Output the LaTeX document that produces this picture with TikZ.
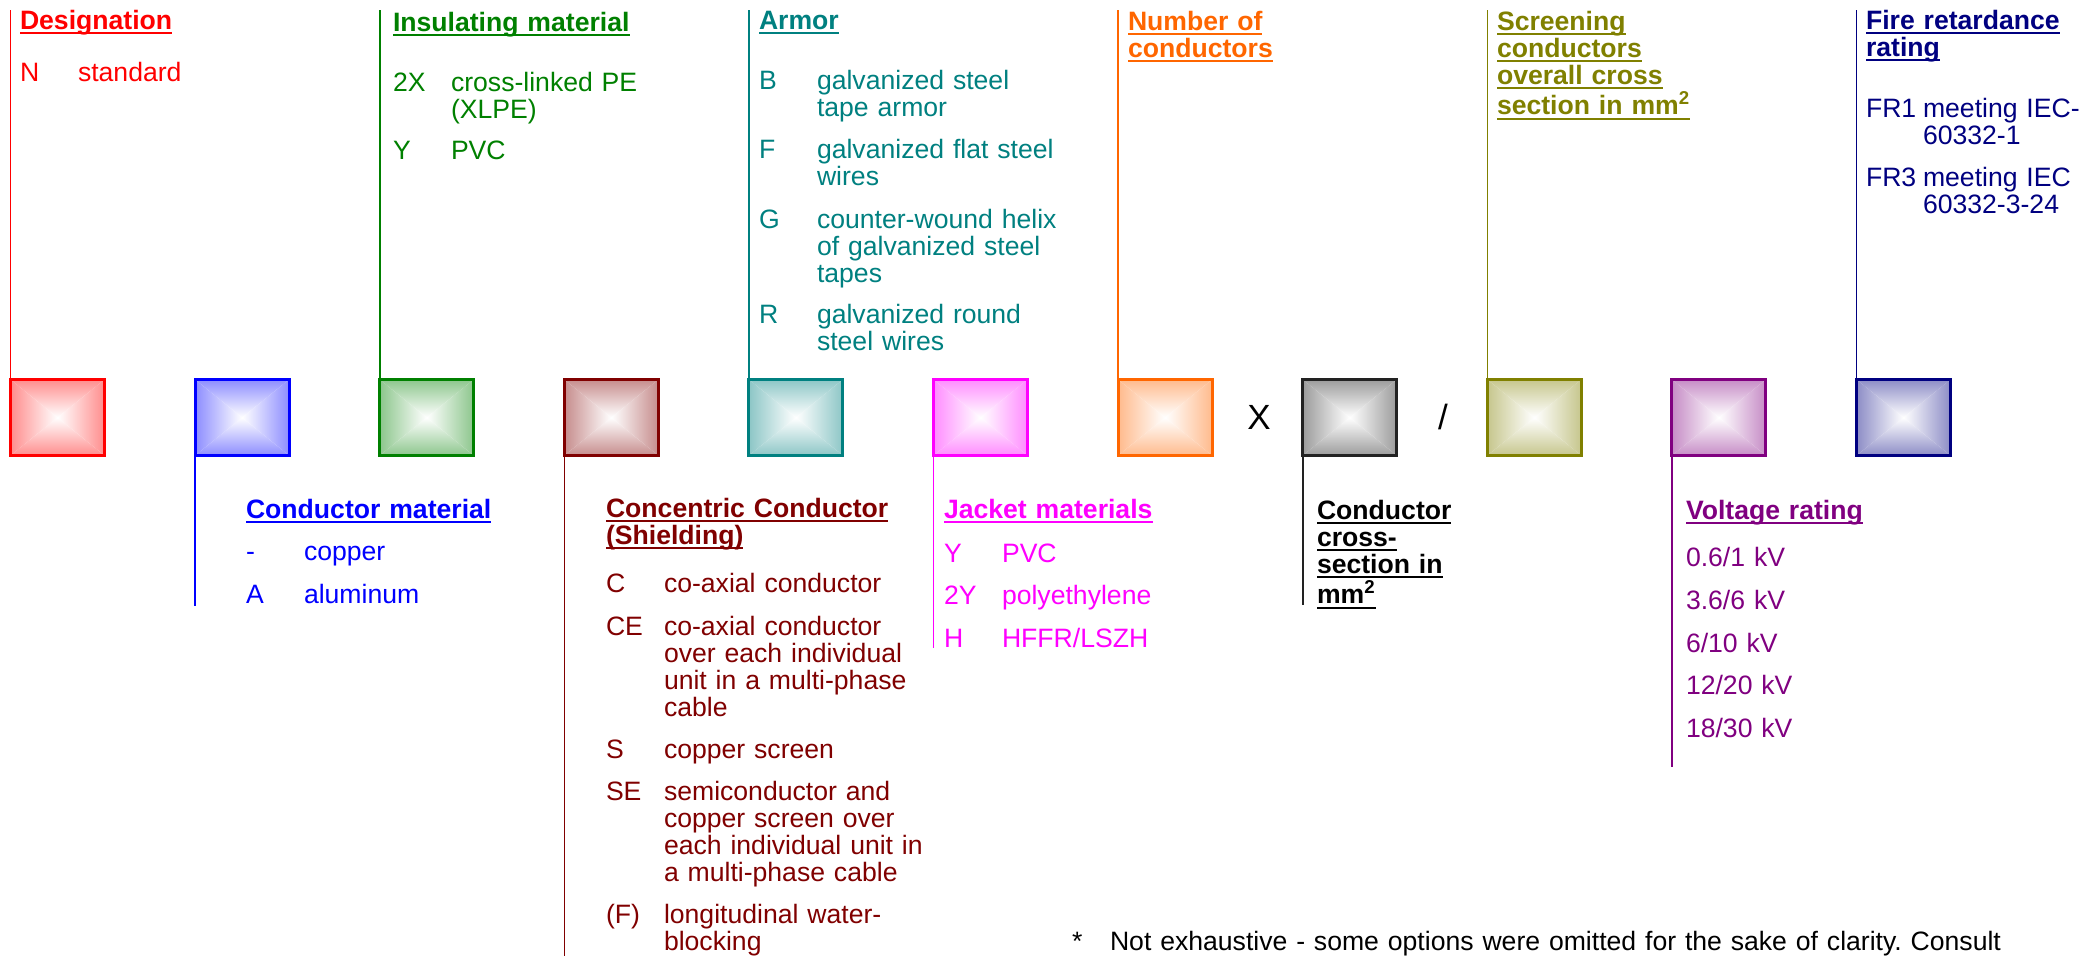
\documentclass[tikz,border=0pt]{standalone}
\usepackage{fontspec}
\setmainfont{Liberation Sans}
\frenchspacing
\newsavebox\ulbox
\newcommand\myul[1]{\leavevmode\sbox\ulbox{#1}\rlap{\vrule height -1.6pt depth 2.6pt width \wd\ulbox}\usebox\ulbox}
\definecolor{cRed}{RGB}{255,0,0}
\definecolor{cBlue}{RGB}{0,0,255}
\definecolor{cGreen}{RGB}{0,128,0}
\definecolor{cMaroon}{RGB}{128,0,0}
\definecolor{cTeal}{RGB}{0,128,128}
\definecolor{cMag}{RGB}{255,0,255}
\definecolor{cOrange}{RGB}{255,102,0}
\definecolor{cBlack}{RGB}{34,34,34}
\definecolor{cOlive}{RGB}{128,128,0}
\definecolor{cPurple}{RGB}{128,0,128}
\definecolor{cNavy}{RGB}{0,0,128}
\tikzset{
  boxn/.style={rectangle, minimum width=47pt, minimum height=38pt, inner sep=0pt, outer sep=0pt},
  txt/.style={anchor=base west, inner sep=0pt, outer sep=0pt, text width=160pt, align=left,
              font=\fontsize{13.3}{13.5}\selectfont\frenchspacing},
  hd/.style={txt, font=\fontsize{13.3}{13.5}\selectfont\bfseries},
  lead/.style={line width=0.8pt},
  big/.style={inner sep=0pt, font=\fontsize{17.5}{18}\selectfont}
}
\newcommand\cbox[3]{%
  \node[boxn] (#1) at (#2,417.5) {};
  \shade[top color=#3!45, bottom color=white] (#1.north west) -- (#1.north east) -- (#1.center) -- cycle;
  \shade[top color=white, bottom color=#3!45] (#1.south west) -- (#1.south east) -- (#1.center) -- cycle;
  \shade[left color=#3!45, right color=white] (#1.north west) -- (#1.south west) -- (#1.center) -- cycle;
  \shade[left color=white, right color=#3!45] (#1.north east) -- (#1.south east) -- (#1.center) -- cycle;
  \draw[#3, line width=1.5pt] (#1.south west) rectangle (#1.north east);
}
\begin{document}
\begin{tikzpicture}[x=0.5pt,y=-0.5pt]
\useasboundingbox (0,0) rectangle (2100,955);
% boxes
\cbox{b1}{57.5}{cRed}
\cbox{b2}{242.1}{cBlue}
\cbox{b3}{426.7}{cGreen}
\cbox{b4}{611.3}{cMaroon}
\cbox{b5}{795.9}{cTeal}
\cbox{b6}{980.5}{cMag}
\cbox{b7}{1165.1}{cOrange}
\cbox{b8}{1349.7}{cBlack}
\cbox{b9}{1534.3}{cOlive}
\cbox{b10}{1718.9}{cPurple}
\cbox{b11}{1903.5}{cNavy}
% separators
\node[big] (xs) at (1259,417) {X};
\node[big] (sl) at (1443,417) {/};
% leader ends
\coordinate (t1) at (b1.north west |- 0,10);
\coordinate (t3) at (b3.north west |- 0,10);
\coordinate (t5) at (b5.north west |- 0,10);
\coordinate (t7) at (b7.north west |- 0,10);
\coordinate (t9) at (b9.north west |- 0,10);
\coordinate (t11) at (b11.north west |- 0,10);
\coordinate (e2) at (b2.south west |- 0,606);
\coordinate (e4) at (b4.south west |- 0,960);
\coordinate (e6) at (b6.south west |- 0,648);
\coordinate (e8) at (b8.south west |- 0,605);
\coordinate (e10) at (b10.south west |- 0,767);
\draw[lead, cRed] (b1.north west) -- (t1);
\draw[lead, cGreen] (b3.north west) -- (t3);
\draw[lead, cTeal] (b5.north west) -- (t5);
\draw[lead, cOrange] (b7.north west) -- (t7);
\draw[lead, cOlive] (b9.north west) -- (t9);
\draw[lead, cNavy] (b11.north west) -- (t11);
\draw[lead, cBlue] (b2.south west) -- (e2);
\draw[lead, cMaroon] (b4.south west) -- (e4);
\draw[lead, cMag] (b6.south west) -- (e6);
\draw[lead, cBlack] (b8.south west) -- (e8);
\draw[lead, cPurple] (b10.south west) -- (e10);
% Designation
\begin{scope}[cRed]
\node[hd] (h1) at (20,29) {\myul{Designation}};
\node[txt] (l1a) at (20,81) {N};
\node[txt] (d1a) at (78,81) {standard};
\end{scope}
% Insulating
\begin{scope}[cGreen]
\node[hd] (h3) at (393,31) {\myul{Insulating material}};
\node[txt] (l3a) at (393,91) {2X};
\node[txt] (d3a) at (451,91) {cross-linked PE\\(XLPE)};
\node[txt] (l3b) at (393,159) {Y};
\node[txt] (d3b) at (451,159) {PVC};
\end{scope}
% Armor
\begin{scope}[cTeal]
\node[hd] (h5) at (759,29) {\myul{Armor}};
\node[txt] (l5a) at (759,89) {B};
\node[txt] (d5a) at (817,89) {galvanized steel\\tape armor};
\node[txt] (l5b) at (759,158) {F};
\node[txt] (d5b) at (817,158) {galvanized flat steel\\wires};
\node[txt] (l5c) at (759,228) {G};
\node[txt] (d5c) at (817,228) {counter-wound helix\\of galvanized steel\\tapes};
\node[txt] (l5d) at (759,323) {R};
\node[txt] (d5d) at (817,323) {galvanized round\\steel wires};
\end{scope}
% Number of conductors
\node[hd, cOrange] (h7) at (1128,30) {\myul{Number of}\\\myul{conductors}};
% Screening
\node[hd, cOlive] (h9) at (1497,30) {\myul{Screening}\\\myul{conductors}\\\myul{overall cross}\\\myul{section in mm\textsuperscript{2}}};
% Fire
\begin{scope}[cNavy]
\node[hd] (h11) at (1866,29) {\myul{Fire retardance}\\\myul{rating}};
\node[txt] (l11a) at (1866,117) {FR1};
\node[txt] (d11a) at (1923,117) {meeting IEC-\\60332-1};
\node[txt] (l11b) at (1866,186) {FR3};
\node[txt] (d11b) at (1923,186) {meeting IEC\\60332-3-24};
\end{scope}
% Conductor material
\begin{scope}[cBlue]
\node[hd] (h2) at (246,518) {\myul{Conductor material}};
\node[txt] (l2a) at (246,560) {-};
\node[txt] (d2a) at (304,560) {copper};
\node[txt] (l2b) at (246,603) {A};
\node[txt] (d2b) at (304,603) {aluminum};
\end{scope}
% Concentric conductor
\begin{scope}[cMaroon]
\node[hd] (h4) at (606,517) {\myul{Concentric Conductor}\\\myul{(Shielding)}};
\node[txt] (l4a) at (606,592) {C};
\node[txt] (d4a) at (664,592) {co-axial conductor};
\node[txt] (l4b) at (606,635) {CE};
\node[txt] (d4b) at (664,635) {co-axial conductor\\over each individual\\unit in a multi-phase\\cable};
\node[txt] (l4c) at (606,758) {S};
\node[txt] (d4c) at (664,758) {copper screen};
\node[txt] (l4d) at (606,800) {SE};
\node[txt] (d4d) at (664,800) {semiconductor and\\copper screen over\\each individual unit in\\a multi-phase cable};
\node[txt] (l4e) at (606,923) {(F)};
\node[txt] (d4e) at (664,923) {longitudinal water-\\blocking};
\end{scope}
% Jacket
\begin{scope}[cMag]
\node[hd] (h6) at (944,518) {\myul{Jacket materials}};
\node[txt] (l6a) at (944,562) {Y};
\node[txt] (d6a) at (1002,562) {PVC};
\node[txt] (l6b) at (944,604) {2Y};
\node[txt] (d6b) at (1002,604) {polyethylene};
\node[txt] (l6c) at (944,647) {H};
\node[txt] (d6c) at (1002,647) {HFFR/LSZH};
\end{scope}
% Conductor cross-section
\node[hd, black] (h8) at (1317,519) {\myul{Conductor}\\\myul{cross-}\\\myul{section in}\\\myul{mm\textsuperscript{2}}};
% Voltage
\begin{scope}[cPurple]
\node[hd] (h10) at (1686,519) {\myul{Voltage rating}};
\node[txt] (v1) at (1686,566) {0.6/1 kV};
\node[txt] (v2) at (1686,609) {3.6/6 kV};
\node[txt] (v3) at (1686,652) {6/10 kV};
\node[txt] (v4) at (1686,694) {12/20 kV};
\node[txt] (v5) at (1686,737) {18/30 kV};
\end{scope}
% footnote
\node[txt] (fs) at (1072,950) {*};
\node[txt, text width=500pt] (fn) at (1110,950) {Not exhaustive - some options were omitted for the sake of clarity. Consult};
\end{tikzpicture}
\end{document}
